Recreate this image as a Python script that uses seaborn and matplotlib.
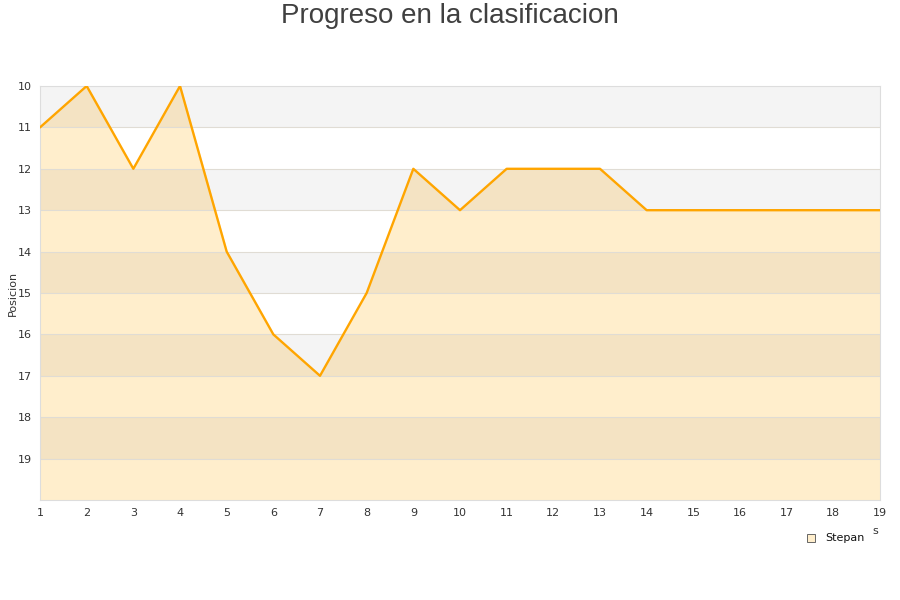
import matplotlib
matplotlib.use("Agg")
import matplotlib.pyplot as plt
import seaborn as sns
import pandas as pd

jornadas = list(range(1, 20))
posicion = [11, 10, 12, 10, 14, 16, 17, 15, 12, 13, 12, 12, 12, 13, 13, 13, 13, 13, 13]
jugador = "Stepan"
y_ticks = list(range(10, 20))

df = pd.DataFrame({"jornada": jornadas, "posicion": posicion})

sns.set_style("white")
plt.rcParams["font.family"] = ["DejaVu Sans"]

fig = plt.figure(figsize=(9, 6), dpi=100)
ax = fig.add_axes([40 / 900, 100 / 600, 840 / 900, 414 / 600])

# relleno bajo la linea
ax.fill_between(df["jornada"], df["posicion"], 20, color="#ffeecc", zorder=1)

# bandas alternas
for i, y in enumerate(range(10, 20)):
    if i % 2 == 0:
        ax.axhspan(y, y + 1, color="black", alpha=0.045, lw=0, zorder=2)

for y in y_ticks[1:]:
    ax.axhline(y, color="#e0dcd4", lw=0.8, zorder=2.5)

sns.lineplot(data=df, x="jornada", y="posicion", color="#ffa500", lw=1.7, ax=ax, zorder=3)

ax.set_xlim(1, 19)
ax.set_ylim(20, 10)
ax.set_xticks(jornadas)
ax.set_yticks(y_ticks)
ax.tick_params(labelsize=8, colors="#333333", length=0, pad=6)
ax.set_xlabel("")
ax.set_ylabel("Posicion", fontsize=8, color="#333333", labelpad=0)
for s in ax.spines.values():
    s.set_color("#dddddd")
    s.set_linewidth(0.8)

fig.text(0.5, 0.995, "Progreso en la clasificacion", ha="center", va="top",
         fontsize=20, color="#404040", family=["Liberation Sans", "DejaVu Sans"])
fig.text(875 / 900, 1 - 531 / 600, "s", ha="center", va="center", fontsize=8, color="#333333")

fig.patches.append(plt.Rectangle((807 / 900, 1 - 542 / 600), 8 / 900, 8 / 600,
                                 transform=fig.transFigure, facecolor="#ffeecc",
                                 edgecolor="#666666", lw=0.7))
fig.text(825 / 900, 1 - 538 / 600, jugador, ha="left", va="center", fontsize=8, color="#111111")

fig.savefig("out.png", dpi=100)
